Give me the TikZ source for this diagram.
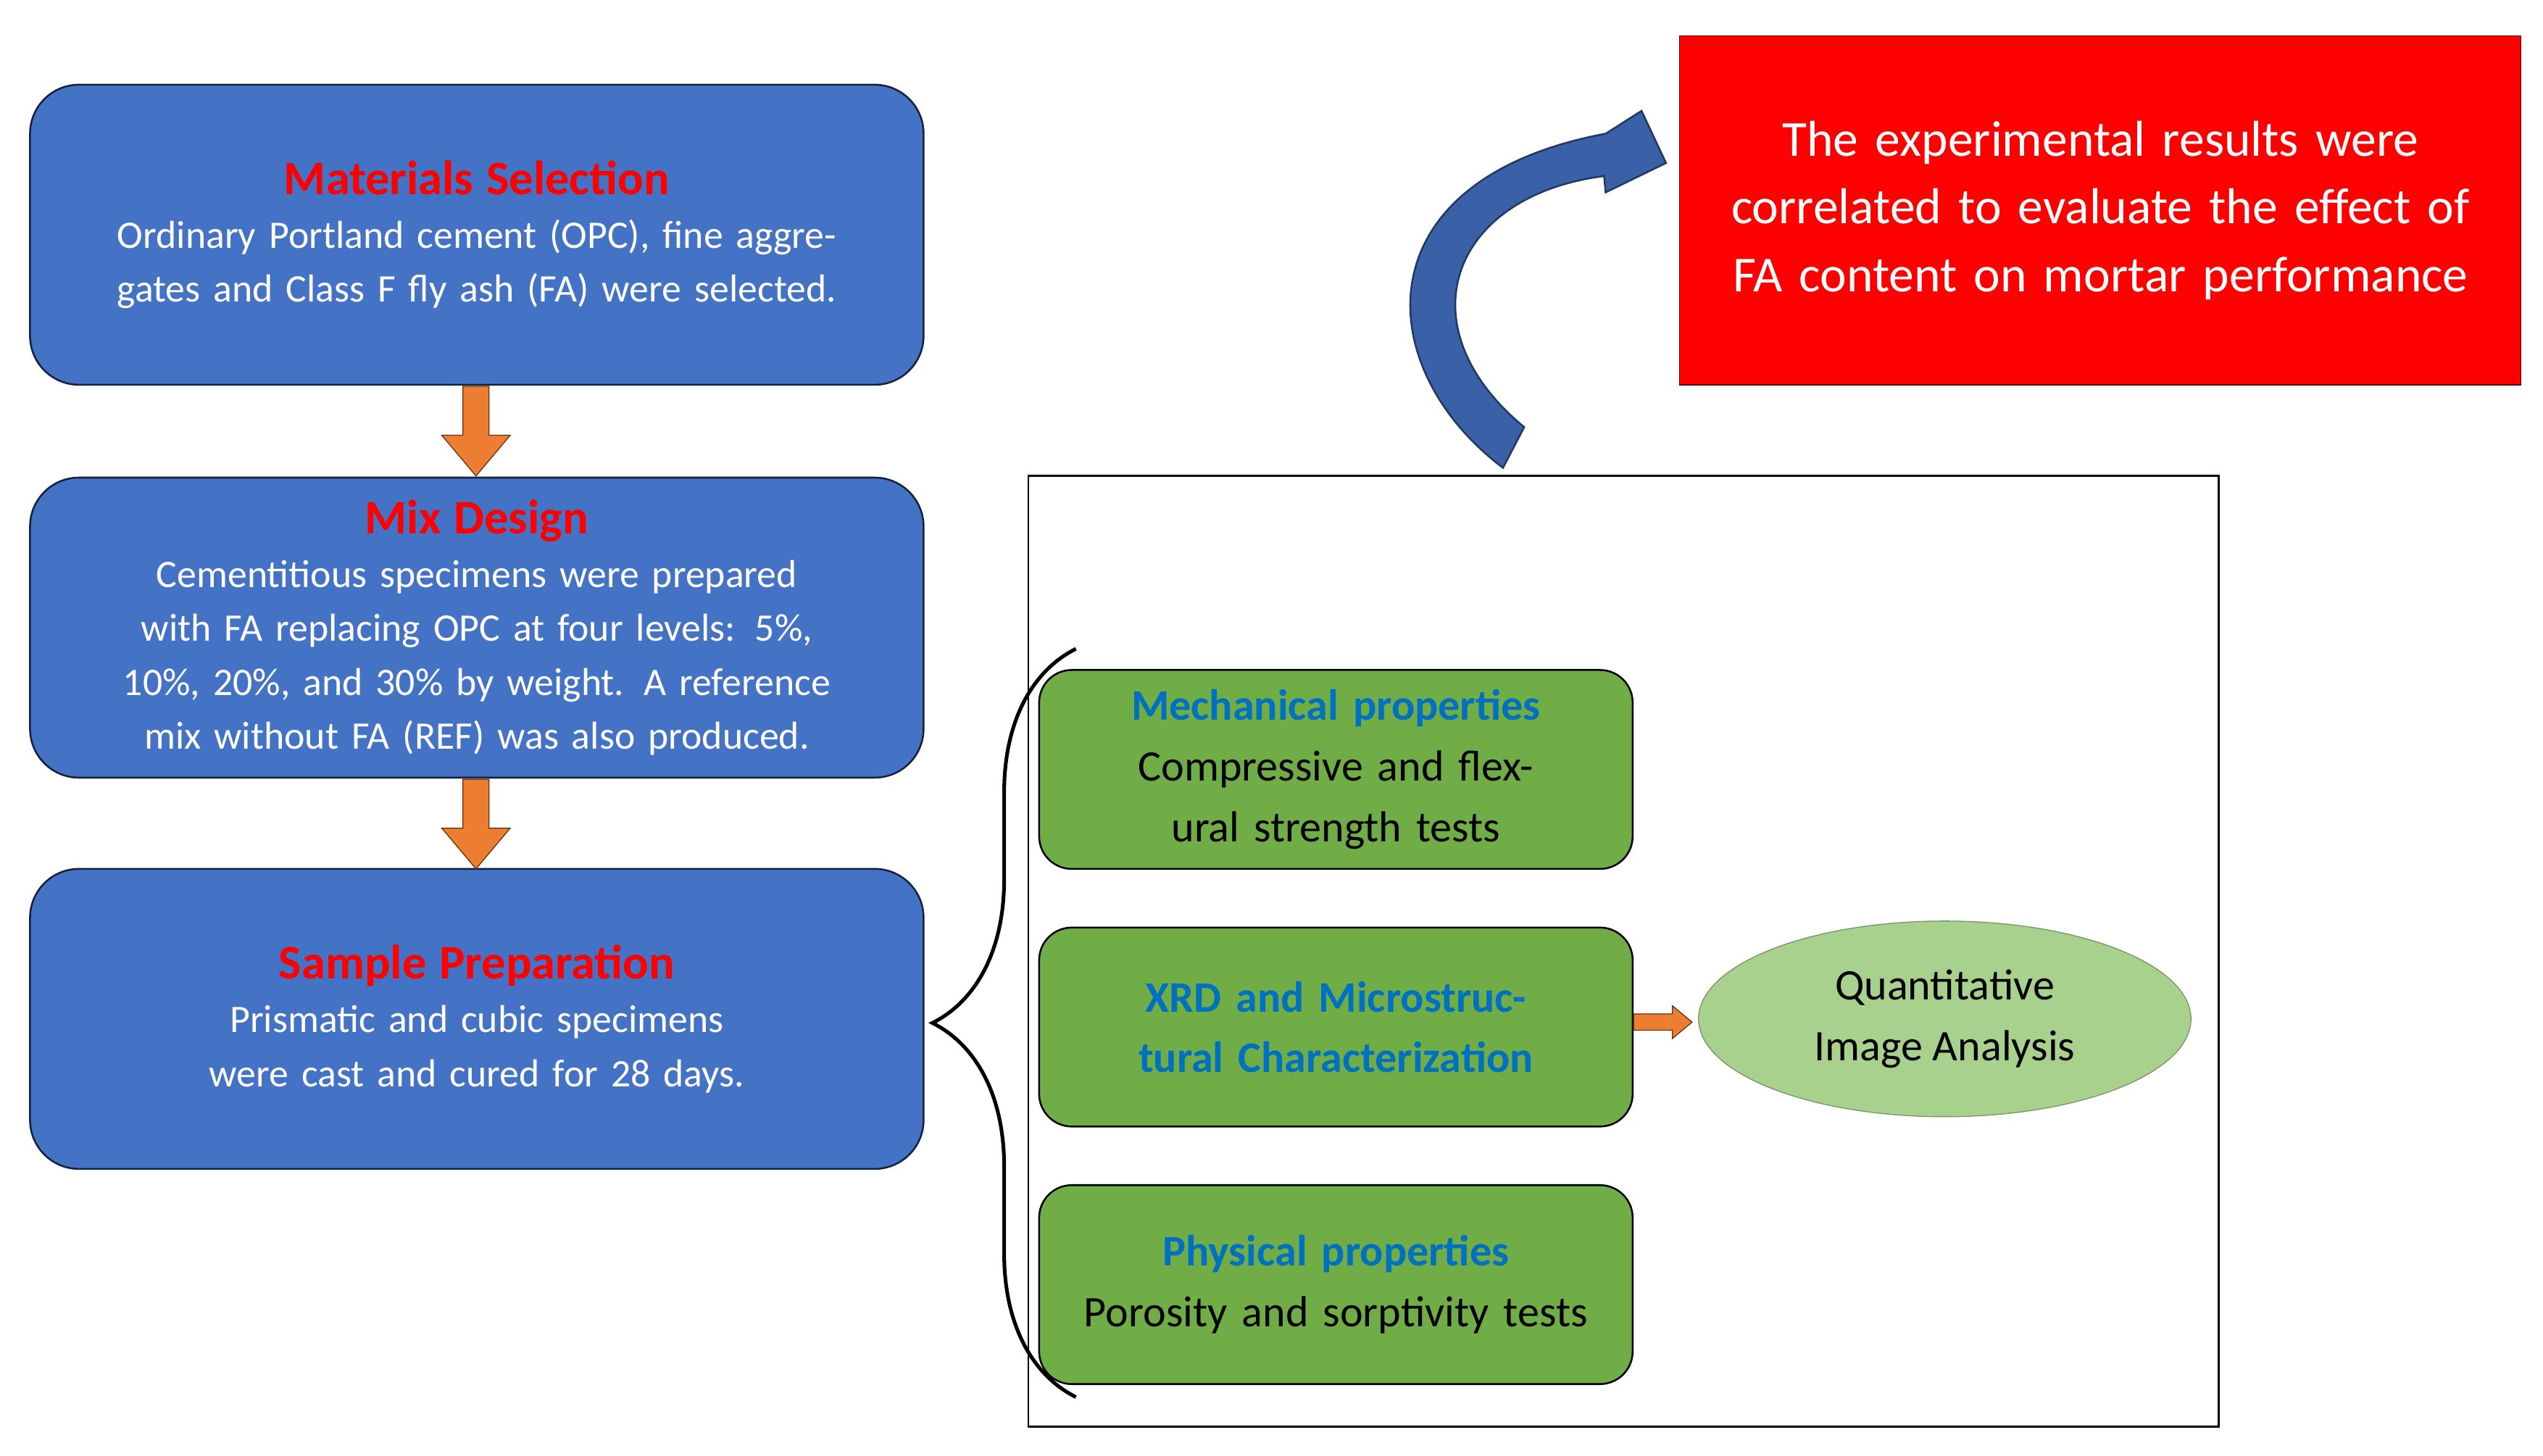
\documentclass[tikz,border=0pt]{standalone}
\usepackage{fontspec}
\setmainfont{Carlito}
\usetikzlibrary{positioning, decorations.pathreplacing, shapes.geometric}
\definecolor{boxblue}{HTML}{4472C4}
\definecolor{boxgreen}{HTML}{70AD47}
\definecolor{lightgreen}{HTML}{A9D18E}
\definecolor{arrorange}{HTML}{ED7D31}
\definecolor{titleblue}{HTML}{0070C0}
\tikzset{schritt/.style={rectangle,rounded corners=0.75cm,draw=black!70!boxblue,thick,fill=boxblue,
		minimum width=13.7cm, minimum height=4.6cm, text width=13cm, align=center, text=white,
		font=\fontsize{17}{23.5}\selectfont},
	pruefung/.style={rectangle,rounded corners=0.5cm,draw=black,thick,fill=boxgreen,
		minimum width=9.1cm, minimum height=3.05cm, text width=8.8cm, align=center,
		font=\fontsize{19}{26.5}\selectfont},
	pfeil/.style={draw=black!60!arrorange,fill=arrorange,thin} }

\begin{document}
\begin{tikzpicture}[x=0.025cm,y=-0.025cm]
  \useasboundingbox (0,0) rectangle (1560,893);

  \node (mat) [schritt] at (292.5,144) {{\color{red}\bfseries\fontsize{21}{26}\selectfont Materials Selection}\\
  	Ordinary Portland cement (OPC), fine aggregates and Class F fly ash (FA) were selected.\\[0.5cm]};
  \node (mix) [schritt] at (292.5,385) {{\color{red}\bfseries\fontsize{21}{26}\selectfont Mix Design}\\
  	Cementitious specimens were prepared with FA replacing OPC at four levels: 5\%, 10\%, 20\%, and 30\% by weight. A reference mix without FA (REF) was also produced.};
  \node (samp) [schritt] at (292.5,625) {{\color{red}\bfseries\fontsize{21}{26}\selectfont Sample Preparation}\\
  	Prismatic and cubic specimens were cast and cured for 28 days.};

  % down arrows
  \foreach \y in {237,478}
  	\filldraw[pfeil] (284,\y) -- (300,\y) -- (300,\y+30) -- (313,\y+30) -- (292,\y+55)
  		-- (271,\y+30) -- (284,\y+30) -- cycle;

  \node (res) [rectangle,draw=black!70!red,fill=red,minimum width=12.9cm,minimum height=5.35cm,
  	text width=12.5cm,align=center,text=white,font=\fontsize{22}{29.5}\selectfont]
  	at (1288.5,129) {The experimental results were correlated to evaluate the effect of FA content on mortar performance};

  \node (rahmen) [rectangle,draw=black,thick,minimum width=18.25cm,minimum height=14.575cm] at (996,583.5) {};

  \node (mech) [pruefung] at (819.5,472) {{\color{titleblue}\bfseries Mechanical properties}\\Compressive and flexural strength tests};
  \node (xrd) [pruefung] at (819.5,630) {\color{titleblue}\bfseries XRD and Microstructural Characterization};
  \node (phys) [pruefung] at (819.5,788) {{\color{titleblue}\bfseries Physical properties}\\Porosity and sorptivity tests};

  \node (qia) [ellipse,draw=black!30!lightgreen,fill=lightgreen,minimum width=7.55cm,minimum height=3cm,
  	align=center,font=\fontsize{19}{26.5}\selectfont] at (1193,625) {Quantitative\\Image Analysis};

  \filldraw[pfeil] (xrd.east |- 0,622) -- (1026,622) -- (1026,617) -- (1038,627)
  	-- (1026,637) -- (1026,632) -- (xrd.east |- 0,632) -- cycle;

  % brace
  \draw[decorate,decoration={brace,amplitude=2.2cm,aspect=0.5},line width=1.6pt]
  	(660,857) -- (660,398);

  % curved arrow
  \filldraw[draw=black!50!boxblue,fill=boxblue!85!black,thick]
  	(922,287) .. controls (840,225) and (835,110) .. (985,82)
  	-- (1007,68) -- (1022,100) -- (985,118) -- (984,108)
  	.. controls (890,120) and (860,200) .. (935,262) -- cycle;
\end{tikzpicture}
\end{document}
